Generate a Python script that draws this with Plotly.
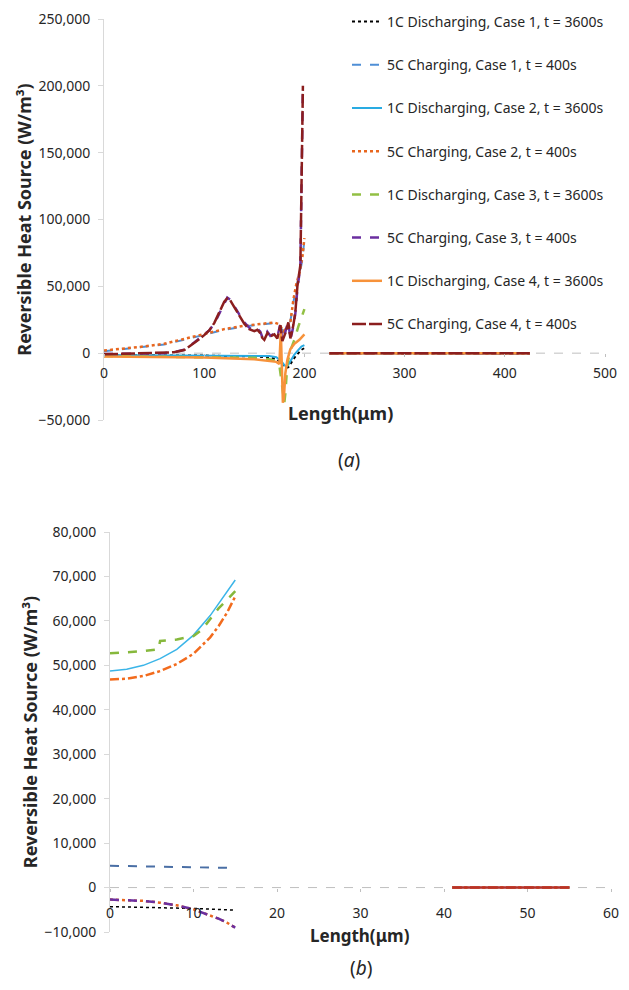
import plotly.graph_objects as go

# legend labels (same order for both panels)
names = [
    "1C Discharging, Case 1, t = 3600s",
    "5C Charging, Case 1, t = 400s",
    "1C Discharging, Case 2, t = 3600s",
    "5C Charging, Case 2, t = 400s",
    "1C Discharging, Case 3, t = 3600s",
    "5C Charging, Case 3, t = 400s",
    "1C Discharging, Case 4, t = 3600s",
    "5C Charging, Case 4, t = 400s",
]

# ---- panel (a): full length (W/m3) ----
a_case1_1c_x = [0, 50, 100, 150, 165, 172, 177, 180, 182, 184, 187, 190, 194, 197, 200]
a_case1_1c_y = [-1500, -1600, -1800, -2500, -3200, -4500, -7000, -9500, -11000, -10500, -7000, -3500, 0, 2500, 3800]

a_case1_5c_x = [0, 20, 40, 60, 80, 100, 120, 140, 160, 170, 175, 179, 183, 186, 189, 192, 195, 198, 200]
a_case1_5c_y = [1500, 3000, 4500, 6500, 10000, 14000, 17500, 20000, 21500, 22500, 21000, 16000, 19000, 24000, 38000, 50000, 58000, 70000, 85000]

a_case2_1c_x = [0, 50, 100, 150, 165, 172, 177, 180, 182, 184, 187, 190, 194, 197, 200]
a_case2_1c_y = [-1300, -1400, -1600, -2000, -2200, -3000, -6000, -9000, -10000, -8500, -4500, -1000, 2500, 5000, 6000]

a_case2_5c_x = [0, 20, 40, 60, 80, 100, 120, 140, 160, 170, 175, 179, 183, 186, 189, 192, 195, 198, 200]
a_case2_5c_y = [2000, 3300, 5000, 7000, 10500, 14500, 18000, 20500, 22000, 23000, 21500, 16500, 19000, 23000, 40000, 52000, 60000, 72000, 86000]

a_case3_1c_x = [0, 50, 100, 150, 165, 172, 175, 177, 179, 180, 181, 183, 186, 190, 194, 197, 200]
a_case3_1c_y = [-2200, -2500, -2800, -3500, -4500, -6000, -9000, -20000, -35000, -37000, -30000, -8000, 2000, 10000, 20000, 27000, 33000]

a_case3_5c_x = [0, 20, 40, 60, 70, 80, 90, 95, 100, 105, 110, 115, 120, 123, 126, 130, 135, 140, 145, 150,
                153, 156, 158, 160, 163, 166, 170, 173, 176, 178, 181, 184, 186, 189, 191, 193, 196, 198.5]
a_case3_5c_y = [-700, -500, -300, 0, 800, 2500, 8000, 11000, 14000, 17000, 22000, 30000, 38000, 41500, 40000, 35000, 29000, 23000, 19000, 17000,
                18500, 16000, 12000, 11000, 16000, 13000, 14500, 12000, 22000, 8500, 16000, 24000, 10000, 20000, 30000, 48000, 65000, 200000]

a_case4_1c_x = [0, 50, 100, 150, 165, 172, 175, 176.5, 177.5, 178.5, 179.5, 181, 183, 186, 190, 195, 200]
a_case4_1c_y = [-2500, -2800, -3200, -4500, -5500, -6500, -8000, 16000, -10000, -37000, -34000, -15000, -5000, 3000, 7000, 10000, 14000]

a_case4_5c_x = a_case3_5c_x
a_case4_5c_y = [-900, -600, -300, 0, 700, 2300, 7500, 10500, 13500, 17000, 22500, 30500, 38500, 41000, 39500, 34500, 28000, 22000, 18000, 16500,
                17500, 15000, 11500, 10000, 15000, 12500, 14000, 11000, 21000, 9000, 15000, 23000, 11000, 21000, 31000, 50000, 66000, 200000]

# second region of panel (a), all series sit on zero
a_zero_x = [225, 425]
a_zero_y = [0, 0]

# ---- panel (b): zoomed region ----
b_x = [0, 2, 4, 6, 8, 10, 12, 13, 14, 15]
b_case1_1c = [-4300, -4350, -4400, -4500, -4600, -4700, -4850, -4950, -5050, -5100]
b_case1_5c = [4900, 4850, 4800, 4750, 4700, 4650, 4550, 4500, 4450, 4400]
b_case2_1c = [48700, 49100, 50000, 51500, 53600, 56800, 61200, 63800, 66500, 69200]
b_case2_5c = [-2700, -2800, -3000, -3400, -4000, -4900, -6200, -7000, -7900, -9000]
b_case3_1c_x = [0, 2, 4, 5.8, 6.0, 8, 10, 11, 12, 13, 14, 15]
b_case3_1c = [52700, 52900, 53200, 53600, 55500, 55800, 56600, 58000, 60500, 62800, 64700, 66700]
b_case3_5c = [-2700, -2800, -3000, -3400, -4000, -4900, -6200, -7000, -7900, -9000]
b_case4_1c = [46800, 47000, 47600, 48700, 50300, 52600, 56300, 58800, 61800, 65500]
b_zero_x = [41, 55]
b_zero_y = [0, 0]

FONT = "Noto Sans"
TXT = "#262626"
AX = "#d9d9d9"

a_series = [
    (a_case1_1c_x, a_case1_1c_y, "#000000", "dot", 2),
    (a_case1_5c_x, a_case1_5c_y, "#4f8fd6", "dash", 2),
    (a_case2_1c_x, a_case2_1c_y, "#29abe2", "solid", 2),
    (a_case2_5c_x, a_case2_5c_y, "#e8661e", "dot", 2.5),
    (a_case3_1c_x, a_case3_1c_y, "#92c044", "dash", 2.5),
    (a_case3_5c_x, a_case3_5c_y, "#6b2fa0", "dash", 2.5),
    (a_case4_1c_x, a_case4_1c_y, "#f7923a", "solid", 2.5),
    (a_case4_5c_x, a_case4_5c_y, "#8b1e1e", "14px,3px", 2.5),
]

b_series = [
    (b_x, b_case1_1c, "#000000", "dot", 1.5),
    (b_x, b_case1_5c, "#4a6fa5", "dash", 2),
    (b_x, b_case2_1c, "#3bb5e8", "solid", 1.5),
    (b_x, b_case2_5c, "#e8661e", "dot", 2.5),
    (b_case3_1c_x, b_case3_1c, "#86b83c", "dash", 2.5),
    (b_x, b_case3_5c, "#6b2fa0", "dash", 2.5),
    (b_x, b_case4_1c, "#f26b1d", "dashdot", 2.5),
    ([], [], "#b8322a", "solid", 2.5),
]

fig = go.Figure()

for i, (x, y, c, d, w) in enumerate(a_series):
    fig.add_trace(go.Scatter(
        x=list(x) + [None] + a_zero_x, y=list(y) + [None] + a_zero_y,
        mode="lines", name=names[i], legendgroup=str(i),
        line=dict(color=c, dash=d, width=w), xaxis="x", yaxis="y"))

for i, (x, y, c, d, w) in enumerate(b_series):
    fig.add_trace(go.Scatter(
        x=list(x) + [None] + b_zero_x, y=list(y) + [None] + b_zero_y,
        mode="lines", name=names[i], showlegend=False,
        line=dict(color=c, dash=d, width=w), xaxis="x2", yaxis="y2"))


def zero_pos(dom, rng):
    return dom[0] + (0 - rng[0]) / (rng[1] - rng[0]) * (dom[1] - dom[0])


# page body keeps its 8px margin, so the figure is 16px smaller than the window
OFF = 8
W, H = 629 - 2 * OFF, 990 - 2 * OFF


def px(v):
    return (v - OFF) / W


def py(v):
    return 1 - (v - OFF) / H


ya_dom = [py(420), py(19)]
ya_rng = [-50000, 250000]
yb_dom = [py(932), py(532)]
yb_rng = [-10000, 80000]

tick_font = dict(family=FONT, size=14, color=TXT)
title_font = dict(family=FONT, size=18, color=TXT, weight="bold")

common_x = dict(showgrid=False, zeroline=False, showline=False, ticks="outside", ticklen=3,
                tickcolor="#bfbfbf", tickfont=tick_font, anchor="free", automargin=False)
common_y = dict(showgrid=False, zeroline=False, showline=True, linecolor=AX, linewidth=1,
                ticks="outside", ticklen=5, tickcolor=AX, tickfont=tick_font, tickformat=",d",
                automargin=False, ticklabelstandoff=5)

fig.update_layout(
    width=W, height=H, margin=dict(l=0, r=0, t=0, b=0, autoexpand=False),
    plot_bgcolor="white", paper_bgcolor="white",
    xaxis=dict(common_x, domain=[px(104), px(605)], range=[0, 500], dtick=100,
               position=zero_pos(ya_dom, ya_rng), ticklabelstandoff=4),
    yaxis=dict(common_y, domain=ya_dom, range=ya_rng, dtick=50000, anchor="x",
               title=dict(text="Reversible Heat Source (W/m³)", font=title_font, standoff=2)),
    xaxis2=dict(common_x, domain=[px(110), px(611)], range=[0, 60], dtick=10,
                position=zero_pos(yb_dom, yb_rng), ticklabelstandoff=10),
    yaxis2=dict(common_y, domain=yb_dom, range=yb_rng, dtick=10000, anchor="x2",
                title=dict(text="Reversible Heat Source (W/m³)", font=title_font, standoff=2)),
    legend=dict(x=px(347), y=py(6), xanchor="left", yanchor="top",
                bgcolor="rgba(0,0,0,0)", font=dict(family=FONT, size=14, color=TXT),
                traceorder="grouped", tracegroupgap=22, itemwidth=30),
    showlegend=True,
)

# dashed zero lines
for xr, yr in (("x domain", "y"), ("x2 domain", "y2")):
    fig.add_shape(type="line", xref=xr, yref=yr, x0=0, x1=1, y0=0, y1=0,
                  line=dict(color="#bfbfbf", width=1, dash="dash"), layer="below")

# x axis titles (placed like the original, a little left of the axis centre)
fig.add_annotation(text="<b>Length(μm)</b>", x=px(340), y=py(413), xref="paper", yref="paper",
                   showarrow=False, font=dict(family=FONT, size=18, color=TXT))
fig.add_annotation(text="<b>Length(μm)</b>", x=px(360), y=py(949), xref="paper", yref="paper",
                   showarrow=False, font=dict(family=FONT, size=17, color=TXT))

# panel captions
fig.add_annotation(text="(<i>a</i>)", x=px(349), y=py(460), xref="paper", yref="paper",
                   showarrow=False, font=dict(family=FONT, size=19, color=TXT))
fig.add_annotation(text="(<i>b</i>)", x=px(361), y=0, xref="paper", yref="paper",
                   yanchor="bottom", borderpad=0,
                   showarrow=False, font=dict(family=FONT, size=19, color=TXT))

fig.write_html("out.html")
